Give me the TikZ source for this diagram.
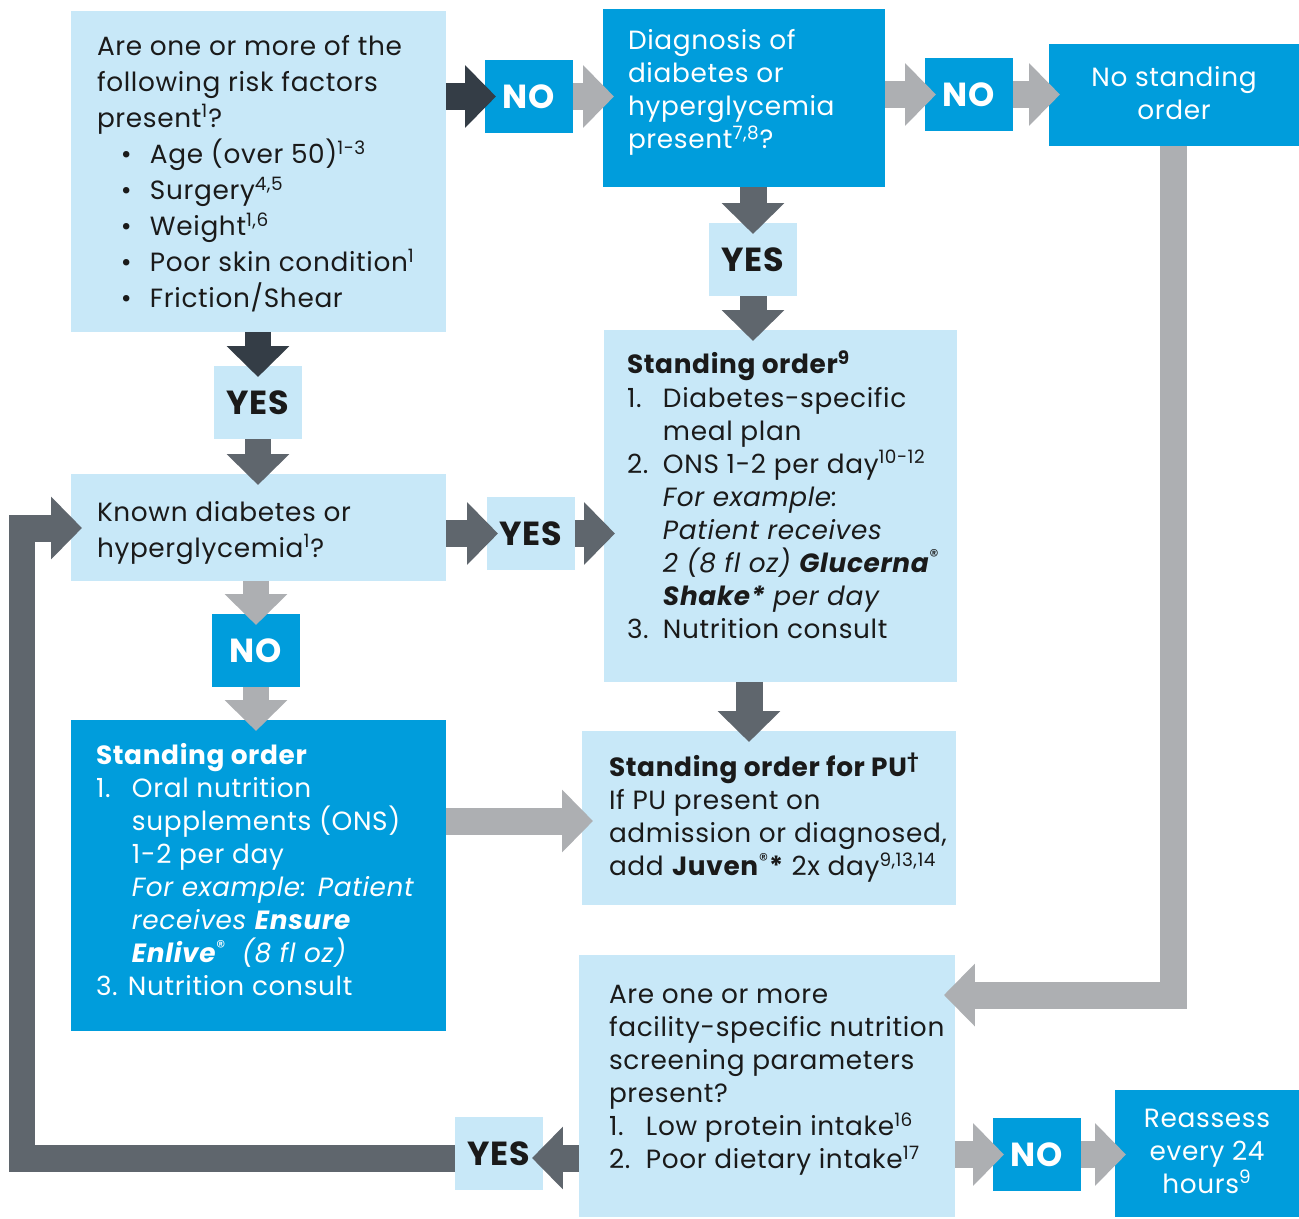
\documentclass[tikz,border=0pt]{standalone}
\usepackage{fontspec}
\setmainfont{Poppins}[LetterSpace=2.5]
\usetikzlibrary{positioning,arrows.meta}
\definecolor{boxblue}{HTML}{009DDC}
\definecolor{paleblue}{HTML}{C8E8F8}
\definecolor{arrdark}{HTML}{343D46}
\definecolor{arrmid}{HTML}{5F666D}
\definecolor{arrlight}{HTML}{ADAFB2}
\definecolor{ink}{HTML}{1A1A1A}
\newcommand{\sups}[1]{\textsuperscript{#1}}
\newcommand{\numlabel}[1]{\makebox[0.72cm][l]{#1}}
\newcommand{\indentnum}{\hspace*{0.72cm}}
\newcommand{\bulletitem}{\hspace*{0.48cm}\makebox[0.58cm][l]{\textbullet}}
\tikzset{
	every node/.style={inner sep=0pt, outer sep=0pt},
	palebox/.style={fill=paleblue, anchor=north west},
	bluebox/.style={fill=boxblue, anchor=north west},
	tagyes/.style={fill=paleblue, minimum width=1.76cm, minimum height=1.46cm, font=\fontsize{19}{19}\selectfont\bfseries, text=ink},
	tagno/.style={tagyes, fill=boxblue, text=white},
	boxtext/.style={anchor=north west, align=left, font=\fontsize{15}{18.8}\selectfont, text=ink},
	widetext/.style={font=\fontsize{15}{20.5}\selectfont},
	blockarrow/.style={line width=0.54cm, -{Triangle[length=0.62cm, width=1.22cm]}, shorten >=-0.22cm},
	darkarrow/.style={blockarrow, draw=arrdark},
	midarrow/.style={blockarrow, draw=arrmid},
	lightarrow/.style={blockarrow, draw=arrlight},
}

\begin{document}
\begin{tikzpicture}[x=0.02cm, y=-0.02cm]
	\useasboundingbox (0,0) rectangle (1299,1218);

	% boxes
	\node[palebox, minimum width=7.5cm, minimum height=6.42cm] (risk) at (71,11) {};
	\node[bluebox, minimum width=5.64cm, minimum height=3.56cm] (diag) at (603,9) {};
	\node[bluebox, minimum width=5.0cm, minimum height=2.04cm] (nostd) at (1049,44) {};
	\node[palebox, minimum width=7.06cm, minimum height=7.04cm] (std9) at (604,330) {};
	\node[palebox, minimum width=7.48cm, minimum height=3.48cm] (pu) at (582,731) {};
	\node[palebox, minimum width=7.5cm, minimum height=2.14cm] (known) at (71,474) {};
	\node[bluebox, minimum width=7.5cm, minimum height=6.22cm] (std) at (71,720) {};
	\node[palebox, minimum width=7.52cm, minimum height=5.24cm] (screen) at (579,955) {};
	\node[bluebox, minimum width=3.68cm, minimum height=2.54cm] (reassess) at (1115,1090) {};

	% yes / no tags
	\node[tagno] (noA) at (529,96.5) {NO};
	\node[tagno] (noB) at (969,94.5) {NO};
	\node[tagyes] (yesB) at (753,259.5) {YES};
	\node[tagyes] (yesA) at (258,402.5) {YES};
	\node[tagyes] (yesF) at (531,533.5) {YES};
	\node[tagno] (noF) at (256,650.5) {NO};
	\node[tagyes] (yesH) at (499,1153.5) {YES};
	\node[tagno] (noH) at (1037,1154.5) {NO};

	% texts
	\node[boxtext, widetext] (risktext) at (97,35) {Are one or more of the\\following risk factors\\present\sups{1}?\\
		\bulletitem Age (over 50)\sups{1-3}\\
		\bulletitem Surgery\sups{4,5}\\
		\bulletitem Weight\sups{1,6}\\
		\bulletitem Poor skin condition\sups{1}\\
		\bulletitem Friction/Shear};
	\node[boxtext, text=white] (diagtext) at (628,29) {Diagnosis of\\diabetes or\\hyperglycemia\\present\sups{7,8}?};
	\node[boxtext, text=white, anchor=center, align=center] (nostdtext) at (1174,93) {No standing\\order};
	\node[boxtext] (std9text) at (627,351) {\textbf{Standing order\sups{9}}\\
		\numlabel{1.}Diabetes-specific\\
		\indentnum meal plan\\
		\numlabel{2.}ONS 1-2 per day\sups{10-12}\\
		\indentnum\textit{For example:}\\
		\indentnum\textit{Patient receives}\\
		\indentnum\textit{2 (8 fl oz) \textbf{Glucerna}}\sups{®}\\
		\indentnum\textit{\textbf{Shake*} per day}\\
		\numlabel{3.}Nutrition consult};
	\node[boxtext] (putext) at (609,753) {\textbf{Standing order for PU\sups{†}}\\If PU present on\\admission or diagnosed,\\add \textbf{Juven}\sups{®}\textbf{*} 2x day\sups{9,13,14}};
	\node[boxtext, widetext] (knowntext) at (97,501) {Known diabetes or\\hyperglycemia\sups{1}?};
	\node[boxtext, text=white] (stdtext) at (96,743) {\textbf{Standing order}\\
		\numlabel{1.}Oral nutrition\\
		\indentnum supplements (ONS)\\
		\indentnum 1-2 per day\\
		\indentnum\textit{For example: Patient}\\
		\indentnum\textit{receives \textbf{Ensure}}\\
		\indentnum\textit{\textbf{Enlive}}\sups{®}\ \ \textit{(8 fl oz)}\\
		3. Nutrition consult};
	\node[boxtext] (screentext) at (609,985) {Are one or more\\facility-specific nutrition\\screening parameters\\present?\\
		\makebox[0.74cm][l]{1.}Low protein intake\sups{16}\\
		\makebox[0.74cm][l]{2.}Poor dietary intake\sups{17}};
	\node[boxtext, text=white, anchor=center, align=center] (reassesstext) at (1207,1151) {Reassess\\every 24\\hours\sups{9}};

	% helper points
	\coordinate (pudrop) at (749,700);
	\coordinate (gtoe) at (500,821);
	\coordinate (cin) at (1000,995);
	\coordinate (hloop) at (500,1158);
	\coordinate (loopup) at (22,528);

	% arrows
	\draw[darkarrow] (risk.east |- noA) -- (noA.west);
	\draw[lightarrow] (noA.east) -- (diag.west |- noA);
	\draw[lightarrow] (diag.east |- noB) -- (noB.west);
	\draw[lightarrow] (noB.east) -- (nostd.west |- noB);
	\draw[midarrow] (diag.south -| yesB) -- (yesB.north);
	\draw[midarrow] (yesB.south) -- (std9.north -| yesB);
	\draw[darkarrow] (risk.south -| yesA) -- (yesA.north);
	\draw[midarrow] (yesA.south) -- (known.north -| yesA);
	\draw[midarrow] (known.east |- yesF) -- (yesF.west);
	\draw[midarrow] (yesF.east) -- (std9.west |- yesF);
	\draw[lightarrow] (known.south -| noF) -- (noF.north);
	\draw[lightarrow] (noF.south) -- (std.north -| noF);
	\draw[midarrow] (std9.south -| pudrop) -- (pudrop |- pu.north);
	\draw[lightarrow] (std.east |- gtoe) -- (gtoe -| pu.west);
	\draw[lightarrow] (nostd.south) |- (screen.east |- cin);
	\draw[midarrow] (screen.west |- hloop) -- (yesH.east |- hloop);
	\draw[midarrow] (yesH.west |- hloop) -| (loopup) -- (known.west |- loopup);
	\draw[lightarrow] (screen.east |- noH) -- (noH.west);
	\draw[lightarrow] (noH.east) -- (reassess.west |- noH);
\end{tikzpicture}
\end{document}
